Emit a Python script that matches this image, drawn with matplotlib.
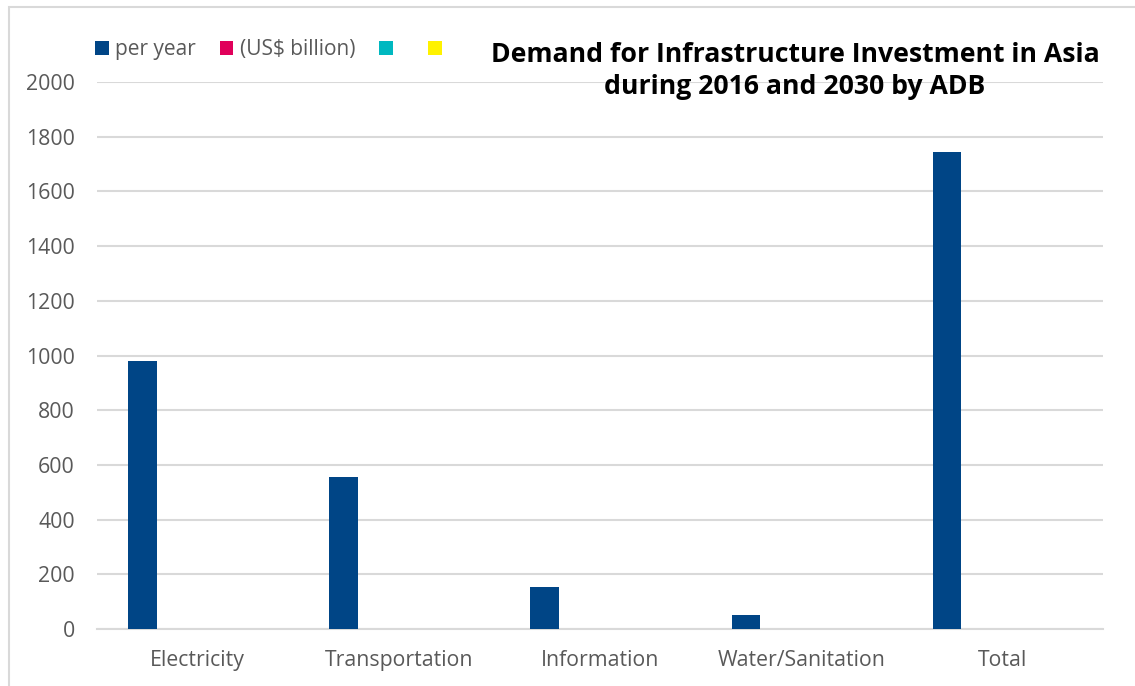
import matplotlib as mpl
mpl.use('Agg')
import matplotlib.pyplot as plt
import numpy as np

categories = ['Electricity', 'Transportation', 'Information', 'Water/Sanitation', 'Total']
series_names = ['per year', '(US$ billion)', ' ', ' ']
per_year = [980, 557, 153, 53, 1744]
series_colors = ['#004586', '#E0005A', '#00B8C0', '#FFF200']
yticks = [0, 200, 400, 600, 800, 1000, 1200, 1400, 1600, 1800, 2000]

plt.rcParams['font.family'] = ['Open Sans', 'DejaVu Sans']
text_color = '#595959'

W, H = 1135, 686
fig = plt.figure(figsize=(W / 100, H / 100), dpi=100)

# outer chart border (left and top visible)
border = plt.Rectangle((9 / W, -0.01), 1.2, 1 - 7 / H + 0.01, transform=fig.transFigure,
                       fill=False, edgecolor='#d9d9d9', linewidth=1.5)
fig.patches.append(border)

ax = fig.add_axes([97 / W, 1 - 629 / H, (1103 - 97) / W, (629 - 82) / H])

x = np.arange(len(categories))
bar_w = 0.142
step = 0.183
all_series = [per_year] + [[0] * len(categories)] * 3
for i, (vals, name, col) in enumerate(zip(all_series, series_names, series_colors)):
    ax.bar(x + (i - 1.5) * step, vals, width=bar_w, color=col, label=name, zorder=3)

ax.set_xlim(-0.5, len(categories) - 0.5)
ax.set_ylim(0, 2000)
ax.set_yticks(yticks)
ax.set_xticks(x)
ax.set_xticklabels(categories)
ax.grid(axis='y', color='#d9d9d9', linewidth=1.5, zorder=0)
for s in ['top', 'right', 'left']:
    ax.spines[s].set_visible(False)
ax.spines['bottom'].set_color('#d9d9d9')
ax.spines['bottom'].set_linewidth(1.5)
ax.tick_params(axis='both', length=0, labelsize=15.3, colors=text_color)
ax.tick_params(axis='y', pad=16)
ax.tick_params(axis='x', pad=15)

leg = fig.legend(loc='upper left', bbox_to_anchor=(87 / W, 1 - 31 / H), ncol=4,
                 frameon=False, fontsize=15, handlelength=0.65, handleheight=0.65,
                 handletextpad=0.3, columnspacing=1.15, borderaxespad=0)
for t in leg.get_texts():
    t.set_color(text_color)

fig.text(795 / W, 1 - 71 / H, 'Demand for Infrastructure Investment in Asia\nduring 2016 and 2030 by ADB',
         ha='center', va='center', fontsize=19.2, fontweight='bold', color='black',
         linespacing=1.3)

fig.savefig('out.png', dpi=100)
